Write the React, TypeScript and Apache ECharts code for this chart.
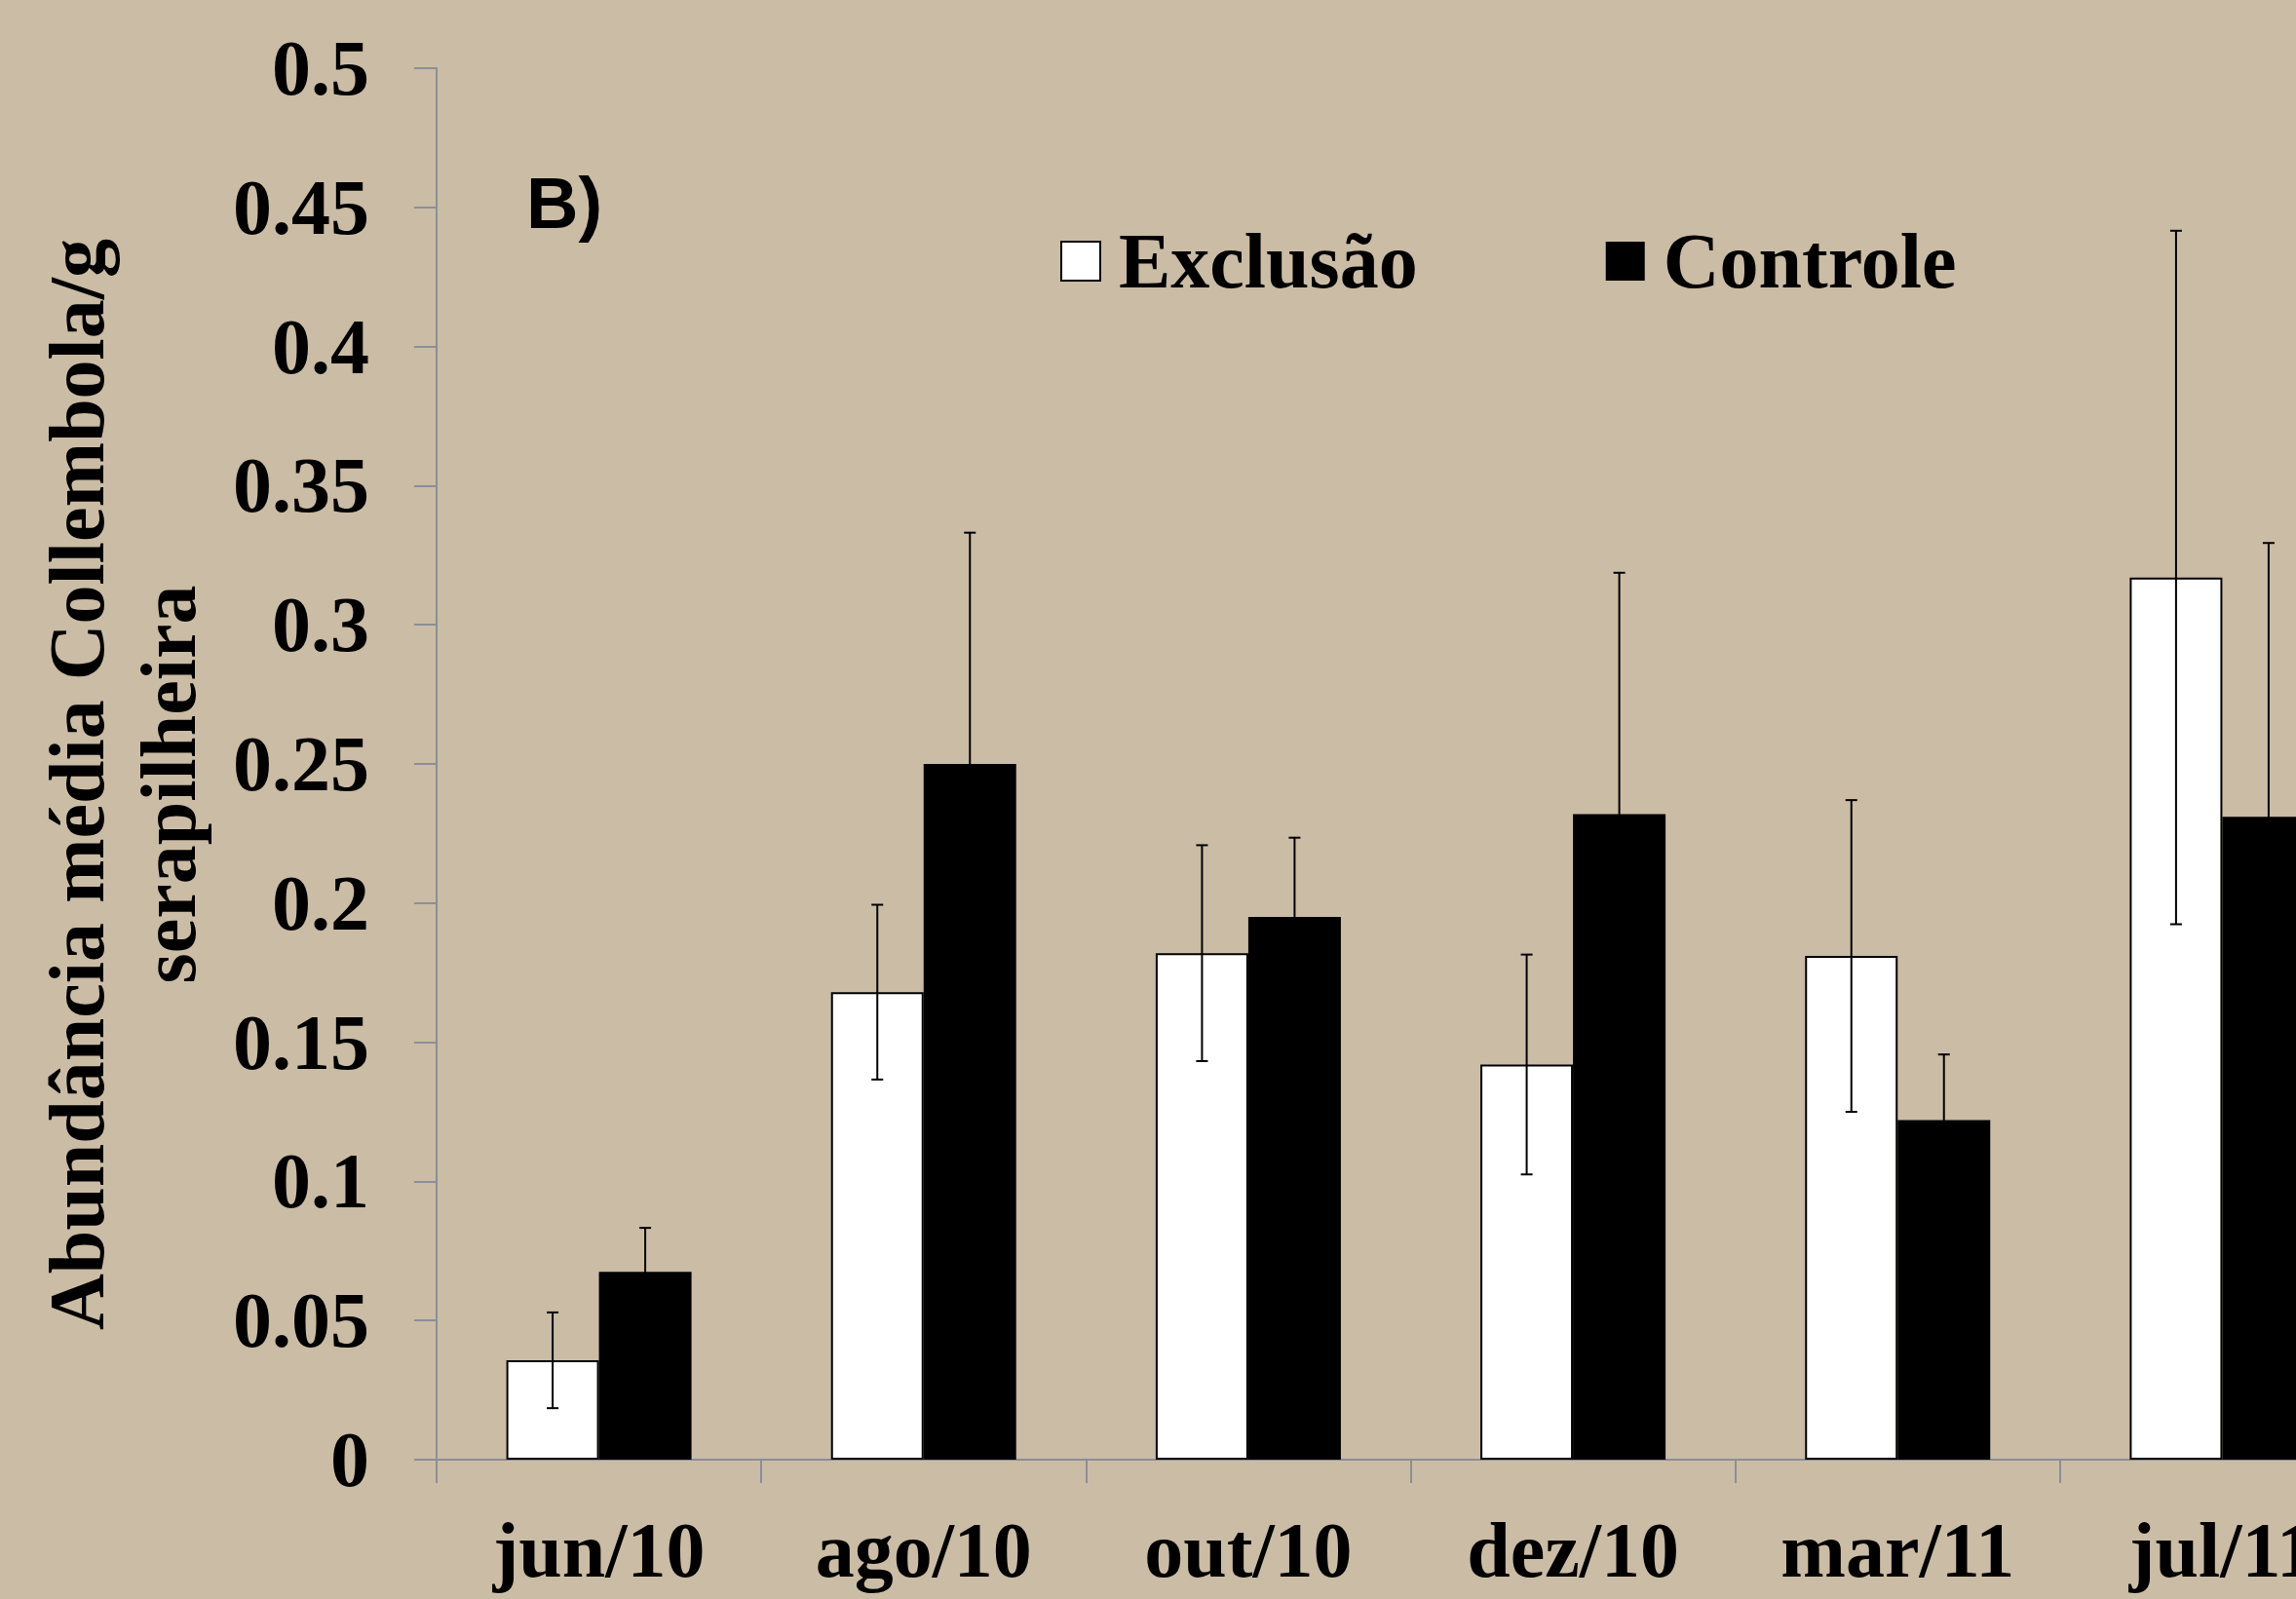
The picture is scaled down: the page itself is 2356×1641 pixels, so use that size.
import React, { useEffect, useRef } from "react";
import * as echarts from "echarts";

const categories = ["jun/10", "ago/10", "out/10", "dez/10", "mar/11", "jul/11"];
const exclusao = [0.0357, 0.168, 0.182, 0.142, 0.181, 0.317];
const controle = [0.0675, 0.25, 0.195, 0.232, 0.122, 0.231];
const exclusaoErr = [0.0172, 0.0314, 0.0388, 0.0395, 0.056, 0.1246];
const controleErr = [0.0158, 0.0831, 0.0285, 0.0867, 0.0236, 0.0984];
const yMin = 0;
const yMax = 0.5;
const yInterval = 0.05;
const seriesNames = ["Exclusão", "Controle"];
const yTitle = "Abundância média Collembola/g\nserapilheira";
const panelLabel = "B)";

const SERIF = "'Liberation Serif', 'Times New Roman', serif";
const AXIS_GRAY = "#8a8f98";
const BG = "#cbbca6";

function errorData(vals: number[], errs: number[]) {
  return vals.map((v, i) => [i, v - errs[i], v + errs[i]]);
}

function makeErrorSeries(name: string, vals: number[], errs: number[], offset: number) {
  return {
    type: "custom",
    name,
    z: 10,
    encode: { x: 0, y: [1, 2] },
    data: errorData(vals, errs),
    renderItem: (params: any, api: any) => {
      const i = api.value(0);
      const lo = api.coord([i, api.value(1)]);
      const hi = api.coord([i, api.value(2)]);
      const x = lo[0] + offset;
      const cap = 6;
      const style = { stroke: "#000", lineWidth: 2 };
      return {
        type: "group",
        children: [
          { type: "line", shape: { x1: x, y1: lo[1], x2: x, y2: hi[1] }, style },
          { type: "line", shape: { x1: x - cap, y1: hi[1], x2: x + cap, y2: hi[1] }, style },
          { type: "line", shape: { x1: x - cap, y1: lo[1], x2: x + cap, y2: lo[1] }, style },
        ],
      };
    },
  };
}

export default function App() {
  const ref = useRef<HTMLDivElement>(null);
  useEffect(() => {
    if (!ref.current) return;
    const chart = echarts.init(ref.current, null, { renderer: "svg" });
    chart.setOption({
      animation: false,
      backgroundColor: BG,
      grid: { left: 448, top: 70, width: 1999, height: 1428, containLabel: false },
      legend: {
        left: 1088,
        top: 228,
        padding: 0,
        itemWidth: 40,
        itemHeight: 40,
        itemGap: 193,
        icon: "rect",
        data: [
          { name: seriesNames[0], itemStyle: { color: "#ffffff", borderColor: "#000", borderWidth: 2 } },
          { name: seriesNames[1], itemStyle: { color: "#000000", borderColor: "#000", borderWidth: 0 } },
        ],
        textStyle: {
          fontFamily: SERIF,
          fontWeight: "bold",
          fontSize: 80,
          color: "#000",
          padding: [0, 0, 0, 14],
        },
      },
      xAxis: {
        type: "category",
        data: categories,
        axisLine: { show: true, lineStyle: { color: AXIS_GRAY, width: 2 } },
        axisTick: { show: true, length: 24, inside: false, alignWithLabel: false, lineStyle: { color: AXIS_GRAY, width: 2 } },
        axisLabel: {
          interval: 0,
          margin: 93,
          verticalAlign: "middle",
          fontFamily: SERIF,
          fontWeight: "bold",
          fontSize: 80,
          color: "#000",
        },
        splitLine: { show: false },
      },
      yAxis: {
        type: "value",
        min: yMin,
        max: yMax,
        interval: yInterval,
        axisLine: { show: true, lineStyle: { color: AXIS_GRAY, width: 2 } },
        axisTick: { show: true, length: 23, inside: false, lineStyle: { color: AXIS_GRAY, width: 2 } },
        axisLabel: {
          margin: 69,
          fontFamily: SERIF,
          fontWeight: "bold",
          fontSize: 80,
          color: "#000",
          verticalAlign: "middle",
        },
        splitLine: { show: false },
      },
      graphic: [
        {
          type: "text",
          x: 126,
          y: 805,
          rotation: Math.PI / 2,
          style: {
            text: yTitle,
            align: "center",
            verticalAlign: "middle",
            fontFamily: SERIF,
            fontWeight: "bold",
            fontSize: 80,
            lineHeight: 94,
            fill: "#000",
          },
        },
        {
          type: "text",
          x: 540,
          y: 208,
          style: {
            text: panelLabel,
            align: "left",
            verticalAlign: "middle",
            fontFamily: "'Liberation Sans', Arial, sans-serif",
            fontWeight: "bold",
            fontSize: 74,
            fill: "#000",
          },
        },
      ],
      series: [
        {
          type: "bar",
          name: seriesNames[0],
          data: exclusao,
          barWidth: 95,
          barGap: "0%",
          itemStyle: { color: "#ffffff", borderColor: "#000", borderWidth: 2 },
        },
        {
          type: "bar",
          name: seriesNames[1],
          data: controle,
          barWidth: 95,
          barGap: "0%",
          itemStyle: { color: "#000000" },
        },
        makeErrorSeries("err-exclusao", exclusao, exclusaoErr, -47.5),
        makeErrorSeries("err-controle", controle, controleErr, 47.5),
      ],
    });
    return () => chart.dispose();
  }, []);
  return (
    <div
      style={{
        position: "absolute",
        left: 0,
        top: 0,
        width: 2356,
        height: 1641,
        overflow: "hidden",
        background: BG,
      }}
    >
      <div ref={ref} style={{ width: 2500, height: 1641 }} />
    </div>
  );
}
